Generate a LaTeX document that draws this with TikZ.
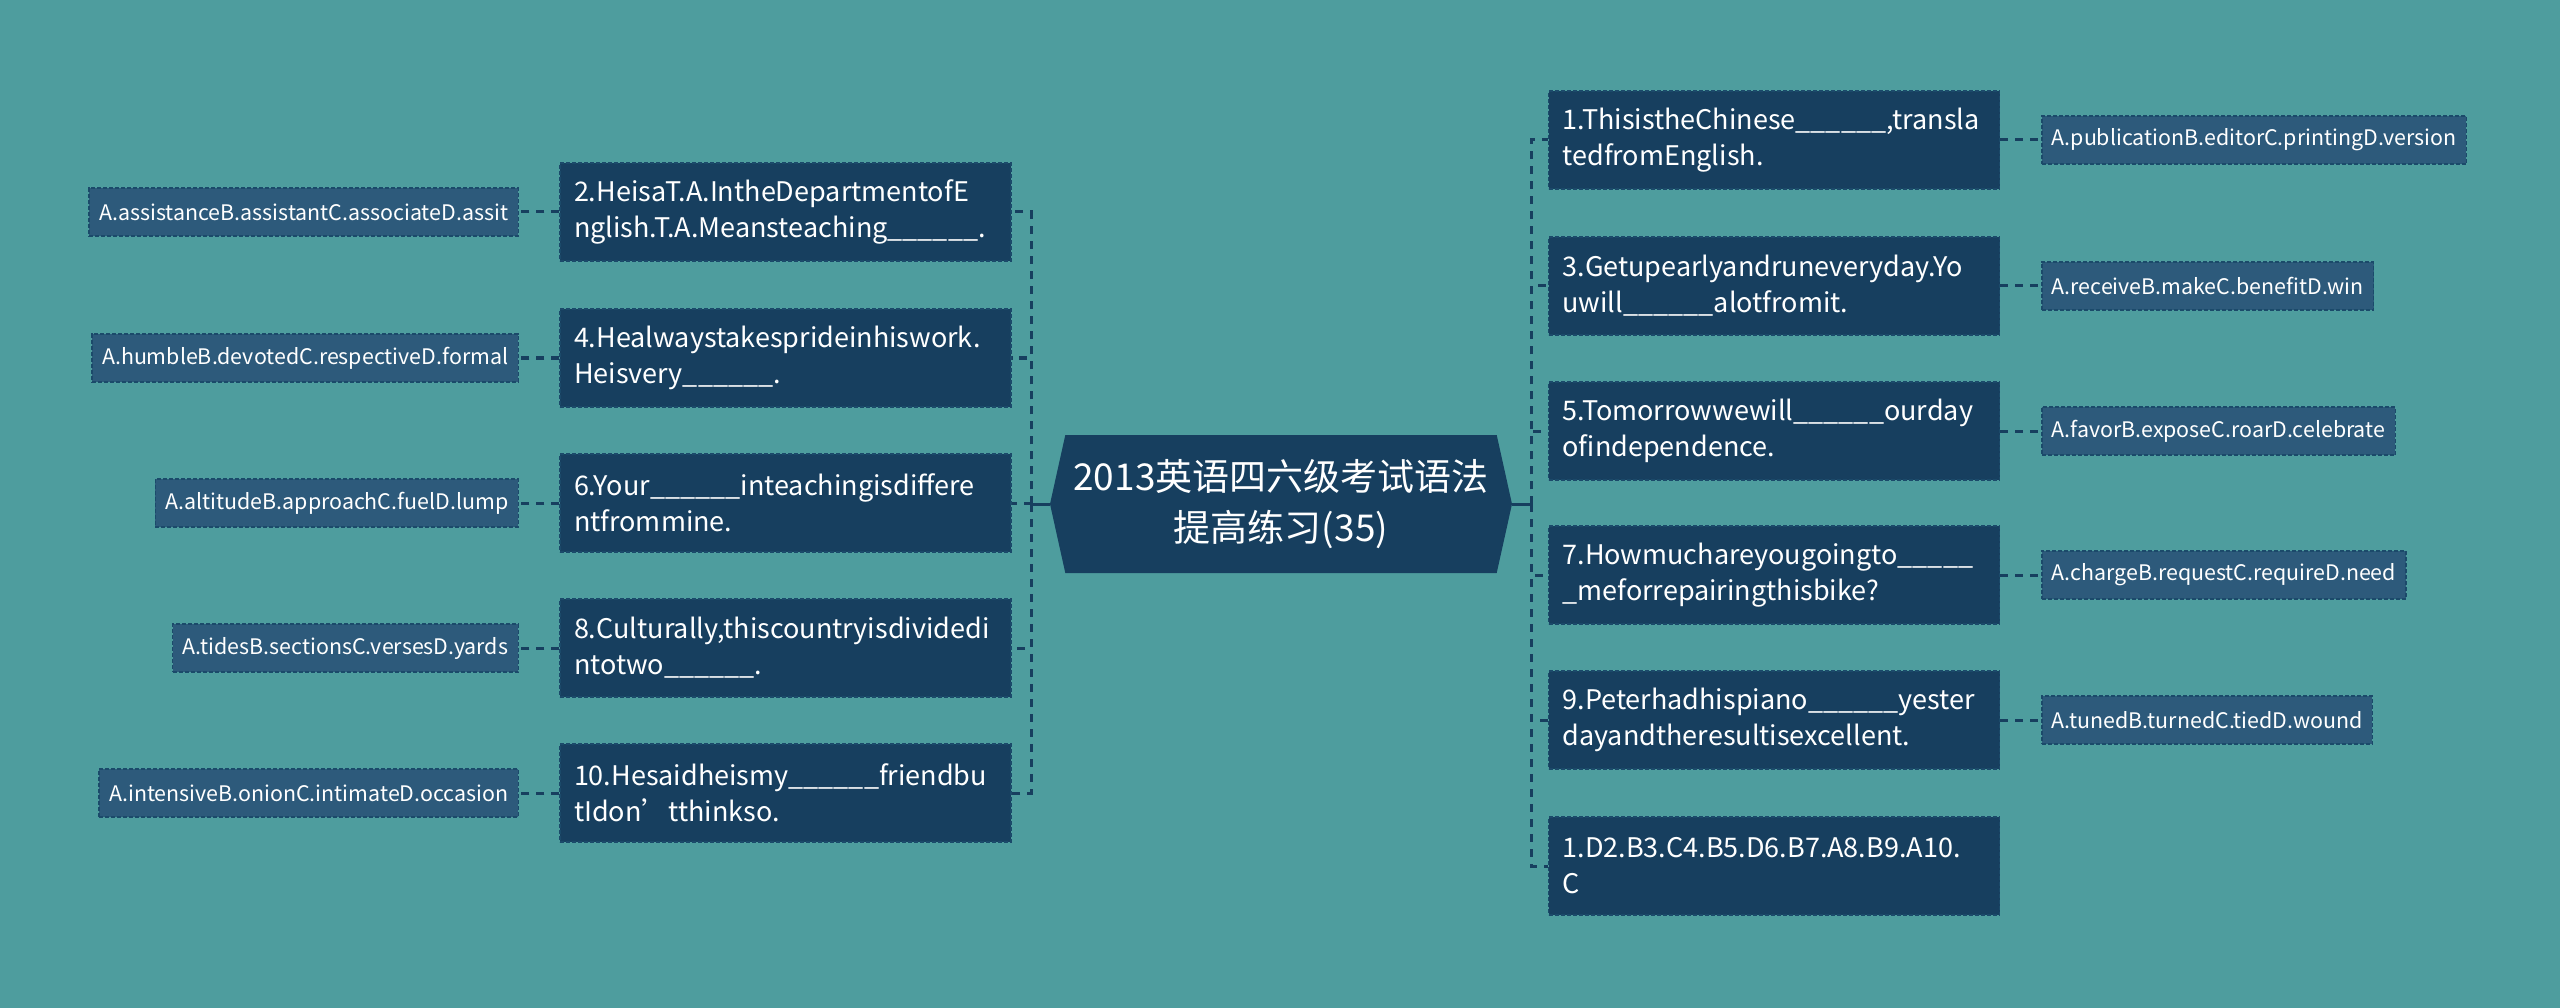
\documentclass[tikz,border=0pt]{standalone}
\usepackage{fontspec}
\setmainfont{Noto Sans CJK SC}
\usetikzlibrary{positioning,shapes.symbols}

\definecolor{bgteal}{HTML}{4E9D9E}
\definecolor{qblue}{HTML}{173F5F}
\definecolor{ablue}{HTML}{2D5A7B}
\definecolor{edgeblue}{HTML}{1B4A6A}

\tikzstyle{rootbox} = [signal, signal to=west and east, signal pointer angle=155,
    fill=qblue, text=white, align=center, minimum width=462pt, minimum height=138pt,
    inner sep=0pt, font=\fontsize{37}{51}\selectfont]
\tikzstyle{qbox} = [draw=edgeblue, fill=qblue, dash pattern=on 4pt off 2pt,
    line width=1.5pt, rectangle, text=white, text width=423pt, align=left,
    inner xsep=14pt, inner ysep=0pt, minimum height=98pt,
    font=\fontsize{27}{36}\selectfont]
\tikzstyle{abox} = [draw=edgeblue, fill=ablue, dash pattern=on 4pt off 2pt,
    line width=1.5pt, rectangle, text=white, inner xsep=10pt, inner ysep=0pt,
    minimum height=48pt, font=\fontsize{21.4}{26}\selectfont]
\tikzstyle{link} = [draw=qblue, line width=3pt, dash pattern=on 8pt off 7pt]
\tikzstyle{stem} = [draw=qblue, line width=3pt]

\begin{document}
\begin{tikzpicture}[x=1pt, y=-1pt]
    \fill[bgteal] (0,0) rectangle (2560,1008);
    \useasboundingbox (0,0) rectangle (2560,1008);

%------------ Mitte ---------------------
    \node[rootbox] (root) at (1281,504) {2013英语四六级考试语法\\提高练习(35)};
    \coordinate (trunkL) at (1031,504);
    \coordinate (trunkR) at (1531,504);

%------------ linke Seite ---------------------
    \node[qbox] (q2) at (785.5,212) {2.HeisaT.A.IntheDepartmentofE\\nglish.T.A.Meansteaching\_\_\_\_\_\_.};
    \node[qbox] (q4) at (785.5,358) {4.Healwaystakesprideinhiswork.\\Heisvery\_\_\_\_\_\_.};
    \node[qbox] (q6) at (785.5,503) {6.Your\_\_\_\_\_\_inteachingisdiffere\\ntfrommine.};
    \node[qbox] (q8) at (785.5,648) {8.Culturally,thiscountryisdividedi\\ntotwo\_\_\_\_\_\_.};
    \node[qbox] (q10) at (785.5,793) {10.Hesaidheismy\_\_\_\_\_\_friendbu\\tIdon’tthinkso.};

    \node[abox, anchor=east] (a2) at (519,212) {A.assistanceB.assistantC.associateD.assit};
    \node[abox, anchor=east] (a4) at (519,358) {A.humbleB.devotedC.respectiveD.formal};
    \node[abox, anchor=east] (a6) at (519,503) {A.altitudeB.approachC.fuelD.lump};
    \node[abox, anchor=east] (a8) at (519,648) {A.tidesB.sectionsC.versesD.yards};
    \node[abox, anchor=east] (a10) at (519,793) {A.intensiveB.onionC.intimateD.occasion};

%------------ rechte Seite ---------------------
    \node[qbox] (q1) at (1774,140) {1.ThisistheChinese\_\_\_\_\_\_,transla\\tedfromEnglish.};
    \node[qbox] (q3) at (1774,286) {3.Getupearlyandruneveryday.Yo\\uwill\_\_\_\_\_\_alotfromit.};
    \node[qbox] (q5) at (1774,431) {5.Tomorrowwewill\_\_\_\_\_\_ourday\\ofindependence.};
    \node[qbox] (q7) at (1774,575) {7.Howmuchareyougoingto\_\_\_\_\_\\\_meforrepairingthisbike?};
    \node[qbox] (q9) at (1774,720) {9.Peterhadhispiano\_\_\_\_\_\_yester\\dayandtheresultisexcellent.};
    \node[qbox] (key) at (1774,866) {1.D2.B3.C4.B5.D6.B7.A8.B9.A10.\\C};

    \node[abox, anchor=west] (a1) at (2041,140) {A.publicationB.editorC.printingD.version};
    \node[abox, anchor=west] (a3) at (2041,286) {A.receiveB.makeC.benefitD.win};
    \node[abox, anchor=west] (a5) at (2041,431) {A.favorB.exposeC.roarD.celebrate};
    \node[abox, anchor=west] (a7) at (2041,575) {A.chargeB.requestC.requireD.need};
    \node[abox, anchor=west] (a9) at (2041,720) {A.tunedB.turnedC.tiedD.wound};

%------------ Verbindungen ---------------------
    \draw[stem] (root.west) -- (trunkL);
    \draw[stem] (root.east) -- (trunkR);
    \draw[link] (trunkL) |- (q2.east);
    \draw[link] (trunkL) |- (q4.east);
    \draw[link] (trunkL) |- (q6.east);
    \draw[link] (trunkL) |- (q8.east);
    \draw[link] (trunkL) |- (q10.east);
    \draw[link] (trunkR) |- (q1.west);
    \draw[link] (trunkR) |- (q3.west);
    \draw[link] (trunkR) |- (q5.west);
    \draw[link] (trunkR) |- (q7.west);
    \draw[link] (trunkR) |- (q9.west);
    \draw[link] (trunkR) |- (key.west);

    \draw[link] (q2.west) -- (a2.east);
    \draw[link] (q4.west) -- (a4.east);
    \draw[link] (q6.west) -- (a6.east);
    \draw[link] (q8.west) -- (a8.east);
    \draw[link] (q10.west) -- (a10.east);
    \draw[link] (q1.east) -- (a1.west);
    \draw[link] (q3.east) -- (a3.west);
    \draw[link] (q5.east) -- (a5.west);
    \draw[link] (q7.east) -- (a7.west);
    \draw[link] (q9.east) -- (a9.west);
\end{tikzpicture}
\end{document}
